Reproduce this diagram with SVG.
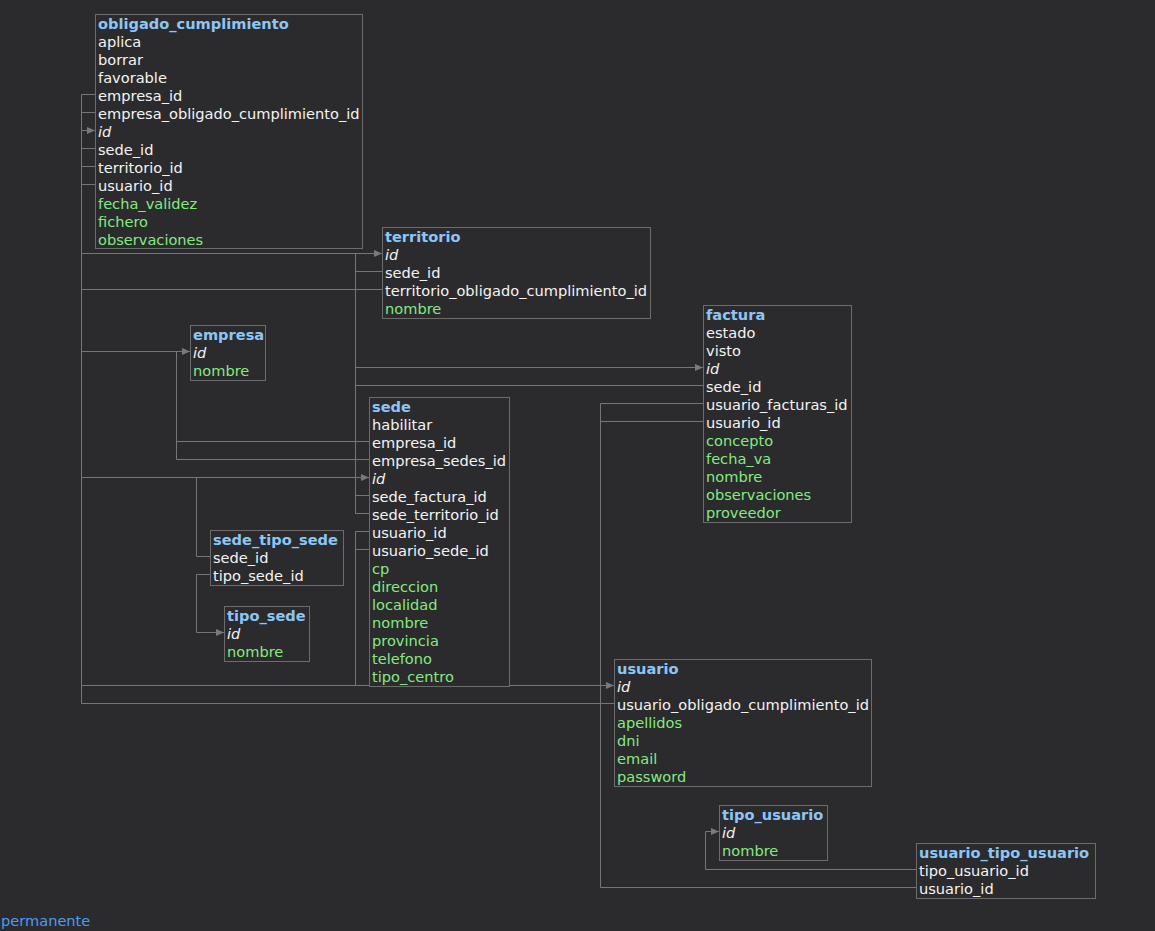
<svg xmlns="http://www.w3.org/2000/svg" width="1155" height="931" viewBox="0 0 1155 931">
<defs>
<style>
text{font-family:"DejaVu Sans","Liberation Sans",sans-serif;font-size:14.6px;fill:#f4f4f4}
.h{font-weight:bold;fill:#8cc6f6}
.g{fill:#84ea80}
.i{font-style:italic}
.b{fill:#2b2b2d;stroke:#6c6c6c;stroke-width:1}
.c path{fill:none;stroke:#767676;stroke-width:1}
.p{fill:#4a9bf2}
</style>
<marker id="a" markerUnits="userSpaceOnUse" markerWidth="9" markerHeight="8" refX="8" refY="3.5" orient="auto">
<path d="M0,0 L8,3.5 L0,7 z" fill="#7a7a7a"/>
</marker>
</defs>
<rect width="1155" height="931" fill="#2b2b2d"/>

<g class="c" id="connectors">
<path d="M95,94.5 H81.5 V351.5 H190" marker-end="url(#a)"/>
<path d="M95,112.5 H81.5 V351.5 H190"/>
<path d="M614,703.5 H81.5 V130.5 H95" marker-end="url(#a)"/>
<path d="M382,289.5 H81.5 V130.5 H95"/>
<path d="M95,148.5 H81.5 V477.5 H369" marker-end="url(#a)"/>
<path d="M95,166.5 H81.5 V253.5 H382" marker-end="url(#a)"/>
<path d="M95,184.5 H81.5 V685.5 H614" marker-end="url(#a)"/>
<path d="M382,271.5 H355.5 V477.5 H369"/>
<path d="M369,513.5 H355.5 V253.5 H382"/>
<path d="M369,495.5 H355.5 V367.5 H703" marker-end="url(#a)"/>
<path d="M703,385.5 H355.5 V477.5 H369"/>
<path d="M369,441.5 H176.5 V351.5 H190"/>
<path d="M369,459.5 H176.5 V351.5 H190"/>
<path d="M210,556.5 H196.5 V477.5 H369"/>
<path d="M210,574.5 H196.5 V632.5 H224" marker-end="url(#a)"/>
<path d="M369,531.5 H355.5 V685.5 H614"/>
<path d="M369,549.5 H355.5 V685.5 H614"/>
<path d="M703,403.5 H600.5 V685.5 H614"/>
<path d="M703,421.5 H600.5 V685.5 H614"/>
<path d="M916,887.5 H600.5 V685.5 H614"/>
<path d="M916,869.5 H705.5 V831.5 H719" marker-end="url(#a)"/>
</g>

<g id="obligado_cumplimiento">
<rect class="b" x="95.5" y="14.5" width="267" height="234"/>
<text x="98" y="29" class="h">obligado_cumplimiento</text>
<text x="98" y="47">aplica</text>
<text x="98" y="65">borrar</text>
<text x="98" y="83">favorable</text>
<text x="98" y="101">empresa_id</text>
<text x="98" y="119">empresa_obligado_cumplimiento_id</text>
<text x="98" y="137" class="i">id</text>
<text x="98" y="155">sede_id</text>
<text x="98" y="173">territorio_id</text>
<text x="98" y="191">usuario_id</text>
<text x="98" y="209" class="g">fecha_validez</text>
<text x="98" y="227" class="g">fichero</text>
<text x="98" y="245" class="g">observaciones</text>
</g>

<g id="territorio">
<rect class="b" x="382.5" y="227.5" width="268" height="91"/>
<text x="385" y="242" class="h">territorio</text>
<text x="385" y="260" class="i">id</text>
<text x="385" y="278">sede_id</text>
<text x="385" y="296">territorio_obligado_cumplimiento_id</text>
<text x="385" y="314" class="g">nombre</text>
</g>

<g id="empresa">
<rect class="b" x="190.5" y="325.5" width="75" height="55"/>
<text x="193" y="340" class="h">empresa</text>
<text x="193" y="358" class="i">id</text>
<text x="193" y="376" class="g">nombre</text>
</g>

<g id="sede">
<rect class="b" x="369.5" y="397.5" width="140" height="289"/>
<text x="372" y="412" class="h">sede</text>
<text x="372" y="430">habilitar</text>
<text x="372" y="448">empresa_id</text>
<text x="372" y="466">empresa_sedes_id</text>
<text x="372" y="484" class="i">id</text>
<text x="372" y="502">sede_factura_id</text>
<text x="372" y="520">sede_territorio_id</text>
<text x="372" y="538">usuario_id</text>
<text x="372" y="556">usuario_sede_id</text>
<text x="372" y="574" class="g">cp</text>
<text x="372" y="592" class="g">direccion</text>
<text x="372" y="610" class="g">localidad</text>
<text x="372" y="628" class="g">nombre</text>
<text x="372" y="646" class="g">provincia</text>
<text x="372" y="664" class="g">telefono</text>
<text x="372" y="682" class="g">tipo_centro</text>
</g>

<g id="sede_tipo_sede">
<rect class="b" x="210.5" y="530.5" width="133" height="55"/>
<text x="213" y="545" class="h">sede_tipo_sede</text>
<text x="213" y="563">sede_id</text>
<text x="213" y="581">tipo_sede_id</text>
</g>

<g id="tipo_sede">
<rect class="b" x="224.5" y="606.5" width="85" height="55"/>
<text x="227" y="621" class="h">tipo_sede</text>
<text x="227" y="639" class="i">id</text>
<text x="227" y="657" class="g">nombre</text>
</g>

<g id="factura">
<rect class="b" x="703.5" y="305.5" width="148" height="217"/>
<text x="706" y="320" class="h">factura</text>
<text x="706" y="338">estado</text>
<text x="706" y="356">visto</text>
<text x="706" y="374" class="i">id</text>
<text x="706" y="392">sede_id</text>
<text x="706" y="410">usuario_facturas_id</text>
<text x="706" y="428">usuario_id</text>
<text x="706" y="446" class="g">concepto</text>
<text x="706" y="464" class="g">fecha_va</text>
<text x="706" y="482" class="g">nombre</text>
<text x="706" y="500" class="g">observaciones</text>
<text x="706" y="518" class="g">proveedor</text>
</g>

<g id="usuario">
<rect class="b" x="614.5" y="659.5" width="257" height="127"/>
<text x="617" y="674" class="h">usuario</text>
<text x="617" y="692" class="i">id</text>
<text x="617" y="710">usuario_obligado_cumplimiento_id</text>
<text x="617" y="728" class="g">apellidos</text>
<text x="617" y="746" class="g">dni</text>
<text x="617" y="764" class="g">email</text>
<text x="617" y="782" class="g">password</text>
</g>

<g id="tipo_usuario">
<rect class="b" x="719.5" y="805.5" width="108" height="55"/>
<text x="722" y="820" class="h">tipo_usuario</text>
<text x="722" y="838" class="i">id</text>
<text x="722" y="856" class="g">nombre</text>
</g>

<g id="usuario_tipo_usuario">
<rect class="b" x="916.5" y="843.5" width="179" height="55"/>
<text x="919" y="858" class="h">usuario_tipo_usuario</text>
<text x="919" y="876">tipo_usuario_id</text>
<text x="919" y="894">usuario_id</text>
</g>

<text x="1" y="926" class="p">permanente</text>
</svg>
